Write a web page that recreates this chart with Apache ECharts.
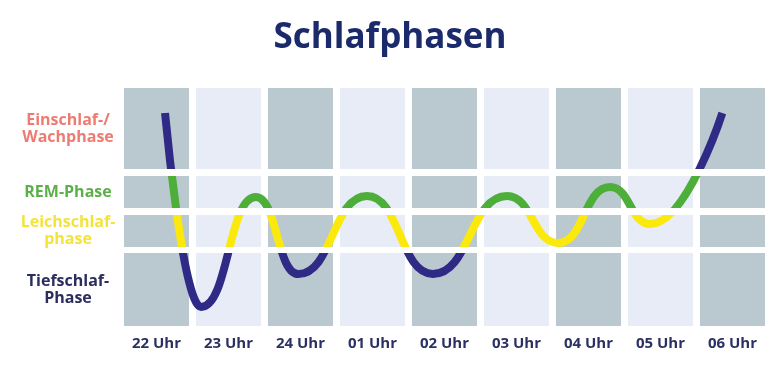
<!DOCTYPE html>
<html><head><meta charset="utf-8">
<script src="https://cdn.jsdelivr.net/npm/echarts@6/dist/echarts.min.js"></script>
<style>html,body{margin:0;padding:0;background:#fff}#c{width:780px;height:390px}</style>
</head><body><div id="c"></div>
<script>
// Data
const hours = ['22 Uhr','23 Uhr','24 Uhr','01 Uhr','02 Uhr','03 Uhr','04 Uhr','05 Uhr','06 Uhr'];
const phaseNames = ['Einschlaf-/\nWachphase','REM-Phase','Leichschlaf-\nphase','Tiefschlaf-\nPhase'];
const phaseLow  = [157, 118, 79, 0];
const phaseHigh = [238, 150, 111, 73];
const curveX = [0.57, 1.07, 1.83, 2.42, 3.375, 4.29, 5.32, 6.03, 6.75, 7.31, 8.31];
const curveY = [213, 19, 129, 52, 130, 52, 130, 83, 139, 102, 213];

// Styles
const FONT = "'Open Sans', sans-serif";
const NAVY_LINE = '#2e2a86', GREEN = '#4dae3a', YELLOW = '#fbe80d';
const DARK_CELL = '#bac8cf', LIGHT_CELL = '#e8ecf7';
const labelColors = ['#ee7b72', '#5bb04a', '#f4e33c', '#2b2d5e'];
const Y_MAX = phaseHigh[0];
const CELL_FRAC = 65 / 72;

const chart = echarts.init(document.getElementById('c'), null, {renderer: 'canvas'});
chart.setOption({
  animation: false,
  backgroundColor: '#fff',
  title: {
    text: 'Schlafphasen', left: 'center', top: 16,
    textStyle: {fontSize: 35, fontWeight: 'bold', color: '#1b2a6b', fontFamily: FONT}
  },
  grid: {left: 124, right: 8, top: 88, bottom: 64, containLabel: false},
  xAxis: [
    {type: 'value', min: 0, max: hours.length, show: false},
    {type: 'category', data: hours, position: 'bottom', boundaryGap: true,
     axisLine: {show: false}, axisTick: {show: false}, splitLine: {show: false},
     axisLabel: {color: '#2b3163', fontSize: 15, fontWeight: 'bold', fontFamily: FONT,
                 margin: 10, padding: [0, 7, 0, 0]}}
  ],
  yAxis: {type: 'value', min: 0, max: Y_MAX, show: false},
  visualMap: {
    type: 'piecewise', show: false, seriesIndex: 1, dimension: 1,
    pieces: [
      {gte: (phaseLow[0] + phaseHigh[1]) / 2, color: NAVY_LINE},
      {gte: (phaseLow[1] + phaseHigh[2]) / 2, lt: (phaseLow[0] + phaseHigh[1]) / 2, color: GREEN},
      {gte: (phaseLow[2] + phaseHigh[3]) / 2, lt: (phaseLow[1] + phaseHigh[2]) / 2, color: YELLOW},
      {lt: (phaseLow[2] + phaseHigh[3]) / 2, color: NAVY_LINE}
    ]
  },
  series: [
    {
      type: 'custom', xAxisIndex: 0, z: 1, silent: true,
      data: hours.map((_, i) => [i]),
      renderItem(params, api) {
        const i = api.value(0);
        const p0 = api.coord([i, Y_MAX]);
        const p1 = api.coord([i + CELL_FRAC, 0]);
        return {type: 'rect', shape: {x: p0[0], y: p0[1], width: p1[0] - p0[0], height: p1[1] - p0[1]},
                style: {fill: i % 2 ? LIGHT_CELL : DARK_CELL}};
      }
    },
    {
      type: 'line', xAxisIndex: 0, z: 2, silent: true,
      data: curveX.map((x, i) => [x, curveY[i]]),
      smooth: 0.5, smoothMonotone: 'x', symbol: 'none',
      lineStyle: {width: 8, cap: 'butt'}
    },
    {
      type: 'custom', xAxisIndex: 0, z: 3, silent: true,
      data: [0, 1, 2].map(i => [i]),
      renderItem(params, api) {
        const i = api.value(0);
        const p0 = api.coord([0, phaseLow[i]]);
        const p1 = api.coord([hours.length - 1 + CELL_FRAC, phaseHigh[i + 1]]);
        return {type: 'rect', shape: {x: p0[0] - 2, y: p0[1], width: p1[0] - p0[0] + 4, height: p1[1] - p0[1]},
                style: {fill: '#ffffff'}};
      }
    },
    {
      type: 'custom', xAxisIndex: 0, z: 4, silent: true,
      data: phaseNames.map((_, i) => [i]),
      renderItem(params, api) {
        const i = api.value(0);
        const y = api.coord([0, (phaseLow[i] + phaseHigh[i]) / 2])[1];
        return {type: 'text', x: 68, y: y,
                style: {text: phaseNames[i], fill: labelColors[i], font: 'bold 16px ' + FONT,
                        align: 'center', verticalAlign: 'middle', lineHeight: 17}};
      }
    }
  ]
});
</script></body></html>
